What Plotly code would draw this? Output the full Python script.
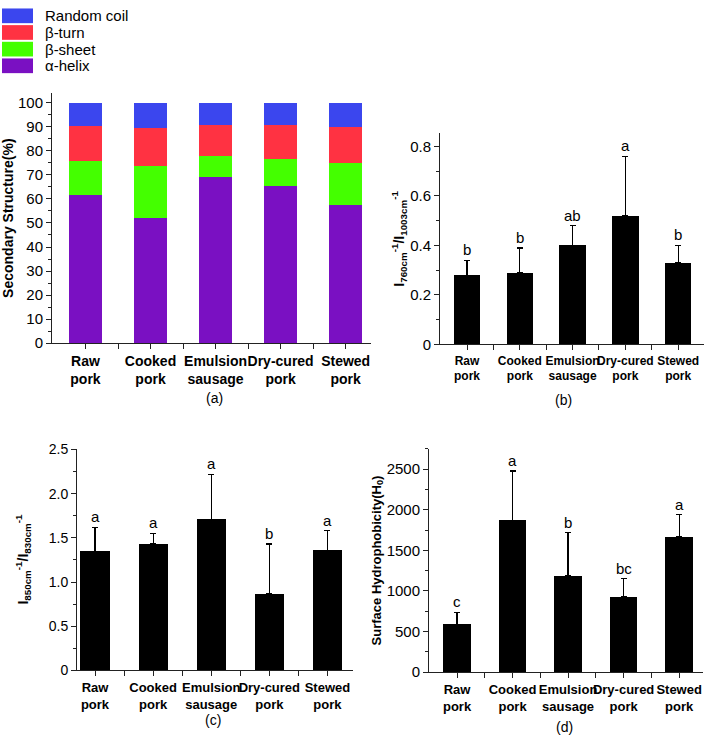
import plotly.graph_objects as go

# ---------------- data ----------------
categories = ["Raw pork", "Cooked pork", "Emulsion sausage", "Dry-cured pork", "Stewed pork"]
tick_labels = ["Raw<br>pork", "Cooked<br>pork", "Emulsion<br>sausage", "Dry-cured<br>pork", "Stewed<br>pork"]

# (a) secondary structure (%)
alpha_helix = [61.5, 52.0, 69.2, 65.2, 57.5]
beta_sheet = [14.5, 21.8, 8.6, 11.6, 17.5]
beta_turn = [14.2, 15.6, 13.0, 13.8, 14.9]
random_coil = [9.8, 10.6, 9.2, 9.5, 10.1]

# (b) I760/I1003
ratio_760 = [0.28, 0.29, 0.40, 0.52, 0.33]
ratio_760_sd = [0.06, 0.10, 0.08, 0.24, 0.07]
letters_760 = ["b", "b", "ab", "a", "b"]

# (c) I850/I830
ratio_850 = [1.35, 1.43, 1.71, 0.87, 1.36]
ratio_850_sd = [0.27, 0.12, 0.51, 0.56, 0.22]
letters_850 = ["a", "a", "a", "b", "a"]
c_tickvals = [0, 0.5, 1.0, 1.5, 2.0, 2.5]
c_ticktext = ["0", "0.5", "1.0", "1.5", "2.0", "2.5"]

# (d) surface hydrophobicity
hydro = [590, 1870, 1185, 925, 1665]
hydro_sd = [147, 608, 535, 225, 277]
letters_hydro = ["c", "a", "b", "bc", "a"]

x_pos = list(range(len(categories)))

FONT = "Liberation Sans, Arial, Helvetica, sans-serif"
NARROW = "Liberation Sans Narrow, Arial Narrow, Liberation Sans, sans-serif"

fig = go.Figure()

# ---------------- (a) stacked bars ----------------
series = [
    ("α-helix", alpha_helix, "#7A10C2"),
    ("β-sheet", beta_sheet, "#44FF00"),
    ("β-turn", beta_turn, "#FF3242"),
    ("Random coil", random_coil, "#3B46EE"),
]
for name, vals, col in series:
    fig.add_trace(go.Bar(
        x=x_pos, y=vals, name=name, width=0.5, showlegend=False,
        marker=dict(color=col, line=dict(width=0)),
        xaxis="x", yaxis="y", customdata=categories,
    ))

# ---------------- (b), (c), (d) bars with error bars ----------------
def add_err_bars(vals, sds, xa, ya):
    fig.add_trace(go.Bar(
        x=x_pos, y=vals, width=0.5, showlegend=False,
        marker=dict(color="black", line=dict(width=0)),
        error_y=dict(type="data", symmetric=False, array=sds,
                     arrayminus=[0] * len(sds), color="black",
                     thickness=1.2, width=3),
        xaxis=xa, yaxis=ya, customdata=categories,
    ))

add_err_bars(ratio_760, ratio_760_sd, "x2", "y2")
add_err_bars(ratio_850, ratio_850_sd, "x3", "y3")
add_err_bars(hydro, hydro_sd, "x4", "y4")

annotations = []
shapes = []

def add_letters(vals, sds, letters, xa, ya):
    for i, (v, s, l) in enumerate(zip(vals, sds, letters)):
        annotations.append(dict(
            x=x_pos[i], y=v + s, xref=xa, yref=ya, text=l,
            showarrow=False, yanchor="bottom", yshift=0,
            font=dict(family=FONT, size=15, color="black"),
        ))

add_letters(ratio_760, ratio_760_sd, letters_760, "x2", "y2")
add_letters(ratio_850, ratio_850_sd, letters_850, "x3", "y3")
add_letters(hydro, hydro_sd, letters_hydro, "x4", "y4")

W, H = 709, 748

def xdom(a, b):
    return [a / W, b / W]

def ydom(top, bottom):
    return [1 - bottom / H, 1 - top / H]

def xaxis(dom, rng, anchor, size):
    return dict(
        domain=dom, range=rng, anchor=anchor,
        tickmode="array", tickvals=x_pos, ticktext=tick_labels, tickangle=0,
        tickfont=dict(family=NARROW, size=size, color="black", weight="bold"),
        showline=True, linecolor="#222", linewidth=1,
        ticks="outside", ticklen=5, tickcolor="#222", tickwidth=1,
        minor=dict(tickvals=[p + 0.5 for p in x_pos], ticks="outside", ticklen=5,
                   tickcolor="#222", tickwidth=1),
        showgrid=False, zeroline=False, fixedrange=True,
    )

def yaxis(dom, rng, anchor, dtick, minor_dtick, size, title, tsize, standoff, tfamily=FONT, **kw):
    d = dict(
        domain=dom, range=rng, anchor=anchor, dtick=dtick, tick0=0,
        tickfont=dict(family=FONT, size=size, color="black"),
        showline=True, linecolor="#222", linewidth=1,
        ticks="outside", ticklen=5, tickcolor="#222", tickwidth=1,
        minor=dict(dtick=minor_dtick, ticks="outside", ticklen=3,
                   tickcolor="#222", tickwidth=1),
        showgrid=False, zeroline=False, fixedrange=True,
        title=dict(text=title, standoff=standoff,
                   font=dict(family=tfamily, size=tsize, color="black", weight="bold")),
    )
    d.update(kw)
    return d

fig.update_layout(
    width=W, height=H, autosize=False,
    margin=dict(l=0, r=0, t=0, b=0),
    paper_bgcolor="white", plot_bgcolor="white",
    barmode="stack",
    showlegend=False,
    xaxis=xaxis(xdom(52, 371), [-0.515, 4.39], "y", 14),
    yaxis=yaxis(ydom(88, 343), [0, 104], "x", 10, 5, 15,
                "Secondary Structure(%)", 14, 4),
    xaxis2=xaxis(xdom(440, 704), [-0.512, 4.49], "y2", 12),
    yaxis2=yaxis(ydom(129, 344.3), [0, 0.853], "x2", 0.2, 0.1, 15,
                 "I<sub>760cm</sub><sup>-1</sup>/I<sub>1003cm</sub><sup>-1</sup>", 14, 2),
    xaxis3=xaxis(xdom(77, 353), [-0.31, 4.44], "y3", 13),
    yaxis3=yaxis(ydom(450.7, 677), [0, 2.51], "x3", 0.5, 0.25, 14,
                 "I<sub>850cm</sub><sup>-1</sup>/I<sub>830cm</sub><sup>-1</sup>", 14, 16,
                 tickmode="array", tickvals=c_tickvals, ticktext=c_ticktext),
    yaxis4=yaxis(ydom(451, 678.7), [0, 2750], "x4", 500, 250, 15,
                 "Surface Hydrophobicity(H<sub>0</sub>)", 13, 2, tfamily=NARROW),
    xaxis4=xaxis(xdom(429, 703), [-0.505, 4.43], "y4", 13),
)

fig.layout.yaxis3.minor = dict(tickvals=[0.25, 0.75, 1.25, 1.75, 2.25], ticks="outside",
                               ticklen=3, tickcolor="#222", tickwidth=1)

# ---------------- legend for (a), drawn as keys + text ----------------
row_top, row_step = 9, 17
for k, (name, vals, col) in enumerate(reversed(series)):
    cy = row_top + k * row_step
    shapes.append(dict(type="rect", xref="paper", yref="paper",
                       x0=2 / W, x1=33 / W, y0=1 - (cy + 7.5) / H, y1=1 - (cy - 7.5) / H,
                       fillcolor=col, line=dict(width=0)))
    annotations.append(dict(x=43 / W, y=1 - cy / H, xref="paper", yref="paper",
                            text=name, showarrow=False, xanchor="left", yanchor="middle",
                            font=dict(family=FONT, size=15, color="black")))

panel_labels = [("(a)", 215, 399), ("(b)", 563, 401), ("(c)", 213, 728), ("(d)", 564, 735)]
for txt, px, py in panel_labels:
    annotations.append(dict(x=px / W, y=1 - py / H, xref="paper", yref="paper",
                            text=txt, showarrow=False, xanchor="center", yanchor="middle",
                            font=dict(family=FONT, size=14, color="black")))

fig.update_layout(annotations=annotations, shapes=shapes)

fig.write_html("out.html", config={"displayModeBar": False},
               post_script="document.body.style.margin='0px';document.body.style.overflow='hidden';")
